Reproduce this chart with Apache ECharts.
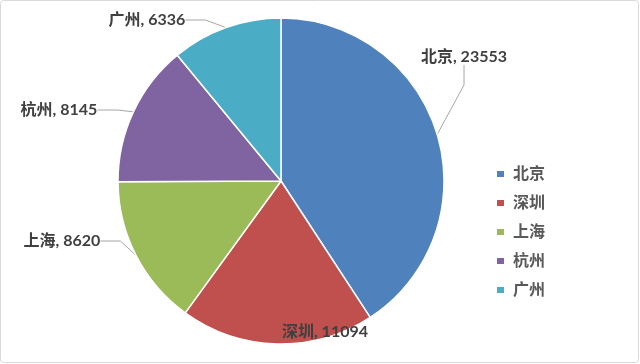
<!DOCTYPE html>
<html><head><meta charset="utf-8">
<script src="https://cdn.jsdelivr.net/npm/echarts@6/dist/echarts.min.js"></script>
<style>html,body{margin:0;padding:0;background:#fff}#c{width:640px;height:364px}</style>
</head><body><div id="c"></div>
<script>
var categories = ['北京', '深圳', '上海', '杭州', '广州'];
var values = [23553, 11094, 8620, 8145, 6336];
var colors = ['#4F81BD', '#C0504D', '#9BBB59', '#8064A2', '#4BACC6'];
var labelPos = [[464, 57], [325, 332], [62, 241], [59, 110], [147, 20]];

var font = "Lato, 'Noto Sans CJK SC', sans-serif";
var chart = echarts.init(document.getElementById('c'));
chart.setOption({
  animation: false,
  color: colors,
  graphic: [{type: 'rect', shape: {x: 0.5, y: 0.5, width: 638, height: 362, r: 3}, style: {fill: 'none', stroke: '#d9d9d9', lineWidth: 1}}],
  legend: {
    orient: 'vertical', left: 490, top: 161, itemWidth: 9, itemHeight: 8, itemGap: 13,
    icon: 'rect',
    textStyle: {fontFamily: font, fontSize: 16, fontWeight: 'bold', color: '#595959', padding: [0, 0, 0, 3]},
    data: categories
  },
  series: [{
    type: 'pie', center: [281, 181], radius: 163, startAngle: 90, clockwise: true,
    itemStyle: {borderColor: '#fff', borderWidth: 1.5},
    label: {
      show: true, position: 'outside', formatter: '{b}, {c}',
      fontFamily: font, fontSize: 16, fontWeight: 'bold', color: '#404040'
    },
    labelLine: {show: true, length: 15, length2: 20, lineStyle: {color: '#a6a6a6', width: 1}},
    labelLayout: function (p) {
      var pos = labelPos[p.dataIndex];
      return {x: pos[0], y: pos[1], align: 'center', verticalAlign: 'middle'};
    },
    data: categories.map(function (c, i) {
      return {name: c, value: values[i], labelLine: i === 1 ? {show: false} : undefined};
    })
  }]
});
</script></body></html>
